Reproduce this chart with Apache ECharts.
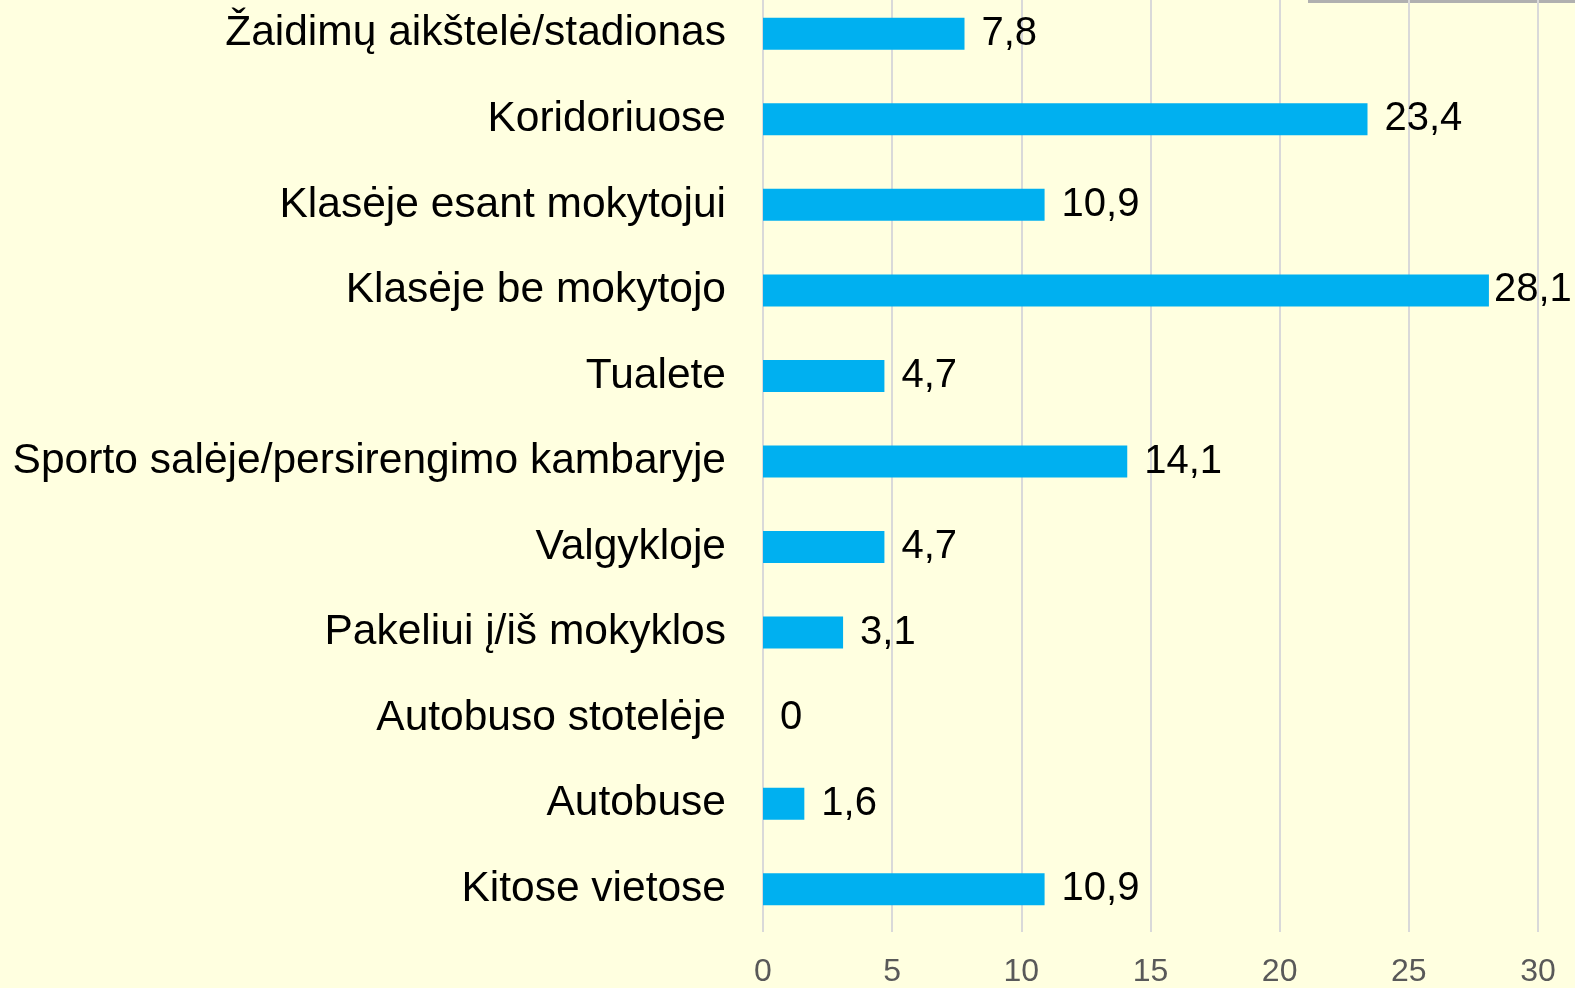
<!DOCTYPE html>
<html>
<head>
<meta charset="utf-8">
<script src="https://cdn.jsdelivr.net/npm/echarts@6/dist/echarts.min.js"></script>
<style>
  html, body { margin: 0; padding: 0; background: #ffffe0; overflow: hidden; }
  /* the plot starts a little above the page edge, so the div is shifted up */
  #chart { position: absolute; left: 0; top: -10px; width: 1575px; height: 998px; }
</style>
</head>
<body>
<div id="chart"></div>
<script>
const categories = [
  "Žaidimų aikštelė/stadionas",
  "Koridoriuose",
  "Klasėje esant mokytojui",
  "Klasėje be mokytojo",
  "Tualete",
  "Sporto salėje/persirengimo kambaryje",
  "Valgykloje",
  "Pakeliui į/iš mokyklos",
  "Autobuso stotelėje",
  "Autobuse",
  "Kitose vietose"
];
const values = [7.8, 23.4, 10.9, 28.1, 4.7, 14.1, 4.7, 3.1, 0, 1.6, 10.9];
const xTicks = { min: 0, max: 30, interval: 5 };

const font = "Liberation Sans, Arial, sans-serif";
const chart = echarts.init(document.getElementById("chart"));
const option = {
  backgroundColor: "#ffffe0",
  animation: false,
  grid: {
    left: 763,
    right: 37,
    top: 1,
    bottom: 54,
    containLabel: false
  },
  xAxis: {
    type: "value",
    min: xTicks.min,
    max: xTicks.max,
    interval: xTicks.interval,
    axisLine: { show: false },
    axisTick: { show: false },
    splitLine: { show: true, lineStyle: { color: "#d9d9d9", width: 2 } },
    axisLabel: {
      color: "#595959",
      fontFamily: font,
      fontSize: 32,
      margin: 24
    }
  },
  yAxis: {
    type: "category",
    data: categories,
    inverse: true,
    axisLine: { show: false },
    axisTick: { show: false },
    axisLabel: {
      color: "#000",
      fontFamily: font,
      fontSize: 42.5,
      margin: 37
    }
  },
  series: [
    {
      type: "bar",
      // the longest bar's label sits closer to its bar, as in the source
      data: values.map((v, i) => (v === Math.max(...values) ? { value: v, label: { distance: 5 } } : v)),
      barWidth: 32,
      itemStyle: { color: "#00b0f0" },
      label: {
        show: true,
        position: "right",
        distance: 17,
        color: "#000",
        fontFamily: font,
        fontSize: 40,
        formatter: function (p) {
          return String(p.value).replace(".", ",");
        }
      }
    }
  ],
  graphic: [
    {
      type: "rect",
      shape: { x: 1308, y: 10, width: 267, height: 3 },
      style: { fill: "#b0b0b0" }
    }
  ]
};
chart.setOption(option);
</script>
</body>
</html>
